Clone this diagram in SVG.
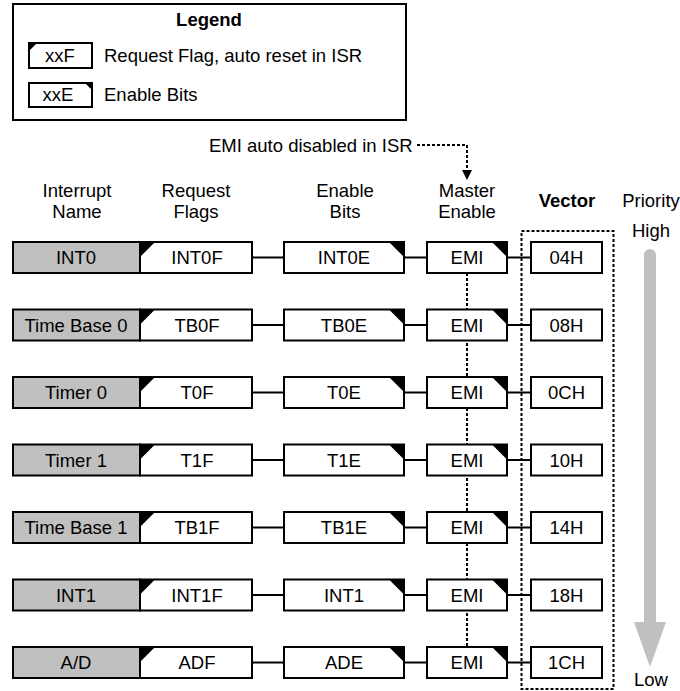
<svg xmlns="http://www.w3.org/2000/svg" width="680" height="691" viewBox="0 0 680 691">
<style>
text{font-family:"Liberation Sans",Arial,sans-serif;font-size:18.5px;fill:#000}
.c{text-anchor:middle}
.b{font-weight:bold}
.box{fill:#fff;stroke:#000;stroke-width:2}
.gray{fill:#c0c0c0;stroke:#000;stroke-width:2}
.tri{fill:#000}
.wire{stroke:#000;stroke-width:2;fill:none}
.dot{stroke:#000;stroke-width:2;fill:none;stroke-dasharray:3 2}
</style>
<rect width="680" height="691" fill="#fff"/>
<g id="legend">
<rect class="box" x="13" y="4" width="393" height="116"/>
<text class="c b" x="209" y="26">Legend</text>
<rect class="box" x="29" y="43" width="63" height="25"/>
<polygon class="tri" points="29,43 37,43 29,51"/>
<text class="c" x="60" y="62">xxF</text>
<text x="104" y="62">Request Flag, auto reset in ISR</text>
<rect class="box" x="29" y="83" width="63" height="24"/>
<polygon class="tri" points="85,83 92,83 92,90"/>
<text class="c" x="58" y="101">xxE</text>
<text x="104" y="101">Enable Bits</text>
</g>
<g id="headers">
<text class="c" x="77" y="197">Interrupt</text><text class="c" x="77" y="218">Name</text>
<text class="c" x="196" y="197">Request</text><text class="c" x="196" y="218">Flags</text>
<text class="c" x="345" y="197">Enable</text><text class="c" x="345" y="218">Bits</text>
<text class="c" x="467" y="197">Master</text><text class="c" x="467" y="218">Enable</text>
<text class="c b" x="567" y="207">Vector</text>
<text class="c" x="651" y="207">Priority</text>
<text class="c" x="651" y="237">High</text>
<text class="c" x="651" y="686">Low</text>
<text x="209" y="152">EMI auto disabled in ISR</text>
</g>
<g id="priority-arrow">
<line x1="650" y1="255" x2="650" y2="623" stroke="#c0c0c0" stroke-width="12" stroke-linecap="round"/>
<polygon points="634,622 666,622 650,667" fill="#c0c0c0"/>
</g>
<g id="connectors">
<path class="dot" d="M417,145 H467 V171"/>
<polygon points="462,170 472,170 467,180" fill="#000"/>
<line class="dot" x1="467" y1="273" x2="467" y2="647"/>
<rect class="dot" x="521.5" y="231" width="92" height="458"/>
<g class="wire">
<path d="M252,257.5 H284 M404,257.5 H427 M507,257.5 H531"/>
<path d="M252,325 H284 M404,325 H427 M507,325 H531"/>
<path d="M252,392.5 H284 M404,392.5 H427 M507,392.5 H531"/>
<path d="M252,460 H284 M404,460 H427 M507,460 H531"/>
<path d="M252,527.5 H284 M404,527.5 H427 M507,527.5 H531"/>
<path d="M252,595 H284 M404,595 H427 M507,595 H531"/>
<path d="M252,662.5 H284 M404,662.5 H427 M507,662.5 H531"/>
</g>
</g>
<defs>
<g id="nameBox"><rect class="gray" x="13" y="242" width="127" height="31"/></g>
<g id="flagBox"><rect class="box" x="140" y="242" width="112" height="31"/><polygon class="tri" points="140,242 155,242 140,257"/></g>
<g id="enBox"><rect class="box" x="284" y="242" width="120" height="31"/><polygon class="tri" points="389,242 404,242 404,257"/></g>
<g id="emiBox"><rect class="box" x="427" y="242" width="80" height="31"/><polygon class="tri" points="492,242 507,242 507,257"/></g>
<g id="vecBox"><rect class="box" x="531" y="242" width="71" height="31"/></g>
</defs>
<g id="n-int0" transform="translate(0,0)"><use href="#nameBox"/><text class="c" x="76" y="264">INT0</text></g>
<g id="f-int0f" transform="translate(0,0)"><use href="#flagBox"/><text class="c" x="197" y="264">INT0F</text></g>
<g id="e-int0e" transform="translate(0,0)"><use href="#enBox"/><text class="c" x="344" y="264">INT0E</text></g>
<g id="m-emi0" transform="translate(0,0)"><use href="#emiBox"/><text class="c" x="467" y="264">EMI</text></g>
<g id="v-04h" transform="translate(0,0)"><use href="#vecBox"/><text class="c" x="566.5" y="264">04H</text></g>

<g id="n-tb0" transform="translate(0,67.5)"><use href="#nameBox"/><text class="c" x="76" y="264">Time Base 0</text></g>
<g id="f-tb0f" transform="translate(0,67.5)"><use href="#flagBox"/><text class="c" x="197" y="264">TB0F</text></g>
<g id="e-tb0e" transform="translate(0,67.5)"><use href="#enBox"/><text class="c" x="344" y="264">TB0E</text></g>
<g id="m-emi1" transform="translate(0,67.5)"><use href="#emiBox"/><text class="c" x="467" y="264">EMI</text></g>
<g id="v-08h" transform="translate(0,67.5)"><use href="#vecBox"/><text class="c" x="566.5" y="264">08H</text></g>

<g id="n-t0" transform="translate(0,135)"><use href="#nameBox"/><text class="c" x="76" y="264">Timer 0</text></g>
<g id="f-t0f" transform="translate(0,135)"><use href="#flagBox"/><text class="c" x="197" y="264">T0F</text></g>
<g id="e-t0e" transform="translate(0,135)"><use href="#enBox"/><text class="c" x="344" y="264">T0E</text></g>
<g id="m-emi2" transform="translate(0,135)"><use href="#emiBox"/><text class="c" x="467" y="264">EMI</text></g>
<g id="v-0ch" transform="translate(0,135)"><use href="#vecBox"/><text class="c" x="566.5" y="264">0CH</text></g>

<g id="n-t1" transform="translate(0,202.5)"><use href="#nameBox"/><text class="c" x="76" y="264">Timer 1</text></g>
<g id="f-t1f" transform="translate(0,202.5)"><use href="#flagBox"/><text class="c" x="197" y="264">T1F</text></g>
<g id="e-t1e" transform="translate(0,202.5)"><use href="#enBox"/><text class="c" x="344" y="264">T1E</text></g>
<g id="m-emi3" transform="translate(0,202.5)"><use href="#emiBox"/><text class="c" x="467" y="264">EMI</text></g>
<g id="v-10h" transform="translate(0,202.5)"><use href="#vecBox"/><text class="c" x="566.5" y="264">10H</text></g>

<g id="n-tb1" transform="translate(0,270)"><use href="#nameBox"/><text class="c" x="76" y="264">Time Base 1</text></g>
<g id="f-tb1f" transform="translate(0,270)"><use href="#flagBox"/><text class="c" x="197" y="264">TB1F</text></g>
<g id="e-tb1e" transform="translate(0,270)"><use href="#enBox"/><text class="c" x="344" y="264">TB1E</text></g>
<g id="m-emi4" transform="translate(0,270)"><use href="#emiBox"/><text class="c" x="467" y="264">EMI</text></g>
<g id="v-14h" transform="translate(0,270)"><use href="#vecBox"/><text class="c" x="566.5" y="264">14H</text></g>

<g id="n-int1" transform="translate(0,337.5)"><use href="#nameBox"/><text class="c" x="76" y="264">INT1</text></g>
<g id="f-int1f" transform="translate(0,337.5)"><use href="#flagBox"/><text class="c" x="197" y="264">INT1F</text></g>
<g id="e-int1" transform="translate(0,337.5)"><use href="#enBox"/><text class="c" x="344" y="264">INT1</text></g>
<g id="m-emi5" transform="translate(0,337.5)"><use href="#emiBox"/><text class="c" x="467" y="264">EMI</text></g>
<g id="v-18h" transform="translate(0,337.5)"><use href="#vecBox"/><text class="c" x="566.5" y="264">18H</text></g>

<g id="n-ad" transform="translate(0,405)"><use href="#nameBox"/><text class="c" x="76" y="264">A/D</text></g>
<g id="f-adf" transform="translate(0,405)"><use href="#flagBox"/><text class="c" x="197" y="264">ADF</text></g>
<g id="e-ade" transform="translate(0,405)"><use href="#enBox"/><text class="c" x="344" y="264">ADE</text></g>
<g id="m-emi6" transform="translate(0,405)"><use href="#emiBox"/><text class="c" x="467" y="264">EMI</text></g>
<g id="v-1ch" transform="translate(0,405)"><use href="#vecBox"/><text class="c" x="566.5" y="264">1CH</text></g>
</svg>
